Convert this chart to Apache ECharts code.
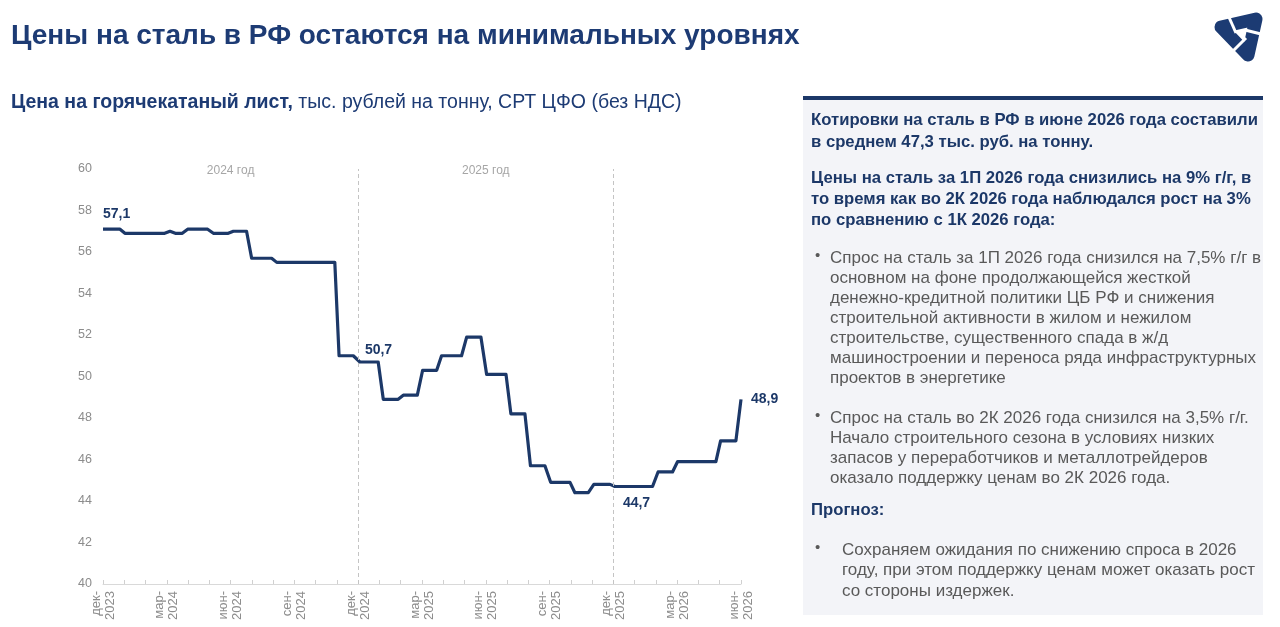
<!DOCTYPE html>
<html>
<head>
<meta charset="utf-8">
<script src="https://cdn.jsdelivr.net/npm/echarts@6/dist/echarts.min.js"></script>
<style>
  html, body { margin: 0; padding: 0; background: #fff; }
  #chart { width: 1280px; height: 627px; }
</style>
</head>
<body>
<div id="chart"></div>
<script>
// месяцы от дек-2023 (0) до июн-2026 (30)
const xMonths = [0, 0.8, 1.03, 2.9, 3.15, 3.4, 3.73, 3.98, 4.92, 5.19, 5.89, 6.13, 6.75, 6.99,
  7.93, 8.17, 10.9, 11.1, 11.77, 12.08, 12.94, 13.18, 13.88, 14.12, 14.78, 15.03, 15.69, 15.92,
  16.86, 17.1, 17.77, 18.04, 18.95, 19.18, 19.84, 20.1, 20.78, 21.05, 21.96, 22.19, 22.82, 23.08,
  23.84, 24.07, 25.84, 26.1, 26.78, 27.02, 28.82, 29.04, 29.76, 30];
const prices = [57.1, 57.1, 56.9, 56.9, 57.0, 56.9, 56.9, 57.1, 57.1, 56.9, 56.9, 57.0, 57.0, 55.7,
  55.7, 55.5, 55.5, 51.0, 51.0, 50.7, 50.7, 48.9, 48.9, 49.1, 49.1, 50.3, 50.3, 51.0,
  51.0, 51.9, 51.9, 50.1, 50.1, 48.2, 48.2, 45.7, 45.7, 44.9, 44.9, 44.4, 44.4, 44.8,
  44.8, 44.7, 44.7, 45.4, 45.4, 45.9, 45.9, 46.9, 46.9, 48.9];
const quarterLabels = ['дек-\n2023', 'мар-\n2024', 'июн-\n2024', 'сен-\n2024', 'дек-\n2024', 'мар-\n2025',
  'июн-\n2025', 'сен-\n2025', 'дек-\n2025', 'мар-\n2026', 'июн-\n2026'];
const yearBands = [['2024 год', 0, 12], ['2025 год', 12, 24]];
const yearBreaks = [12, 24];

const NAVY = '#1c3868';
const GREY_TEXT = '#595959';
const fmt = v => v.toFixed(1).replace('.', ',');

// подписи точек
const callouts = {
  0:  { position: 'top', align: 'left', distance: 8, offset: [0, 0] },
  19: { position: 'top', align: 'left', distance: 5, offset: [5, 0] },
  43: { position: 'bottom', align: 'left', distance: 10, offset: [8, 0] },
  51: { position: 'right', distance: 10, offset: [0, 0] }
};

const FONT = '"Liberation Sans", Arial, sans-serif';

const seriesData = xMonths.map((x, i) => {
  const item = { value: [x, prices[i]] };
  if (callouts[i]) {
    item.label = Object.assign({
      show: true,
      formatter: p => fmt(p.value[1]),
      color: NAVY,
      fontWeight: 'bold',
      fontSize: 14,
      fontFamily: FONT
    }, callouts[i]);
  }
  return item;
});

const panelX = 811;
const bodyFont = '17px ' + FONT;
const boldFont = 'bold 16.7px ' + FONT;
const LOGO = '#1c3b73';

const chart = echarts.init(document.getElementById('chart'));
const option = {
  backgroundColor: '#fff',
  animation: false,
  grid: { left: 103, right: 539, top: 169, bottom: 43 },
  xAxis: {
    type: 'value',
    min: 0,
    max: 30,
    interval: 1,
    splitLine: { show: false },
    axisLine: { lineStyle: { color: '#d9d9d9' } },
    axisTick: { show: true, inside: true, length: 4, lineStyle: { color: '#d0d0d0' } },
    axisLabel: {
      rotate: 90,
      margin: 7,
      color: '#8c8c8c',
      fontSize: 13,
      lineHeight: 14,
      fontFamily: FONT,
      showMinLabel: true,
      showMaxLabel: true,
      formatter: v => (v % 3 === 0 ? quarterLabels[v / 3] : '')
    }
  },
  yAxis: {
    type: 'value',
    min: 40,
    max: 60,
    interval: 2,
    splitLine: { show: false },
    axisLine: { show: false },
    axisTick: { show: false },
    axisLabel: { color: '#8c8c8c', fontSize: 12.5, margin: 11, fontFamily: FONT }
  },
  series: [{
    type: 'line',
    data: seriesData,
    showSymbol: true,
    symbol: 'circle',
    symbolSize: 0,
    lineStyle: { color: NAVY, width: 3.2, join: 'round' },
    itemStyle: { color: NAVY },
    markLine: {
      silent: true,
      symbol: 'none',
      label: { show: false },
      lineStyle: { color: '#c4c4c4', type: [4, 3], width: 1 },
      data: yearBreaks.map(x => ({ xAxis: x }))
    },
    markArea: {
      silent: true,
      itemStyle: { color: 'rgba(0,0,0,0)' },
      label: { show: true, position: 'insideTop', distance: 0, offset: [0, -4], color: '#a6a6a6', fontSize: 12, fontFamily: FONT },
      data: yearBands.map(b => [{ name: b[0], xAxis: b[1] }, { xAxis: b[2] }])
    }
  }],
  graphic: [
    {
      type: 'text', left: 11, top: 22,
      style: { text: 'Цены на сталь в РФ остаются на минимальных уровнях', font: 'bold 28px ' + FONT, fill: '#1d3b74' }
    },
    {
      type: 'text', left: 11, top: 93,
      style: {
        text: '{b|Цена на горячекатаный лист,} тыс. рублей на тонну, СРТ ЦФО (без НДС)',
        font: '19.5px ' + FONT, fill: '#1d3b74',
        rich: { b: { fontWeight: 'bold', fontSize: 19.5, fontFamily: FONT, fill: '#1d3b74' } }
      }
    },
    // логотип: скруглённый треугольник из трёх лопастей
    {
      type: 'group',
      children: [
        { type: 'polygon', shape: { points: [[1221, 27], [1256, 19], [1248, 55]] },
          style: { fill: '#fff', stroke: LOGO, lineWidth: 13, lineJoin: 'round' } },
        { type: 'line', shape: { x1: 1228, y1: 15, x2: 1236, y2: 33 }, style: { stroke: '#fff', lineWidth: 3 } },
        { type: 'line', shape: { x1: 1265, y1: 35, x2: 1245, y2: 30 }, style: { stroke: '#fff', lineWidth: 3 } },
        { type: 'line', shape: { x1: 1231, y1: 53, x2: 1246, y2: 38 }, style: { stroke: '#fff', lineWidth: 3 } }
      ]
    },
    // правая панель
    {
      type: 'rect', shape: { x: 803, y: 97, width: 460, height: 518 },
      style: { fill: '#f3f4f8' }, z: -1
    },
    {
      type: 'rect', shape: { x: 803, y: 96, width: 460, height: 4 },
      style: { fill: '#1c3868' }
    },
    {
      type: 'text', left: panelX, top: 109,
      style: {
        text: 'Котировки на сталь в РФ в июне 2026 года составили\nв среднем 47,3 тыс. руб. на тонну.',
        font: boldFont, fill: NAVY, lineHeight: 22
      }
    },
    {
      type: 'text', left: panelX, top: 168,
      style: {
        text: 'Цены на сталь за 1П 2026 года снизились на 9% г/г, в\nто время как во 2К 2026 года наблюдался рост на 3%\nпо сравнению с 1К 2026 года:',
        font: boldFont, fill: NAVY, lineHeight: 21
      }
    },
    { type: 'text', left: 815, top: 248, style: { text: '•', font: '15px ' + FONT, fill: GREY_TEXT } },
    {
      type: 'text', left: 830, top: 248,
      style: {
        text: 'Спрос на сталь за 1П 2026 года снизился на 7,5% г/г в\nосновном на фоне продолжающейся жесткой\nденежно-кредитной политики ЦБ РФ и снижения\nстроительной активности в жилом и нежилом\nстроительстве, существенного спада в ж/д\nмашиностроении и переноса ряда инфраструктурных\nпроектов в энергетике',
        font: bodyFont, fill: GREY_TEXT, lineHeight: 20
      }
    },
    { type: 'text', left: 815, top: 408, style: { text: '•', font: '15px ' + FONT, fill: GREY_TEXT } },
    {
      type: 'text', left: 830, top: 408,
      style: {
        text: 'Спрос на сталь во 2К 2026 года снизился на 3,5% г/г.\nНачало строительного сезона в условиях низких\nзапасов у переработчиков и металлотрейдеров\nоказало поддержку ценам во 2К 2026 года.',
        font: bodyFont, fill: GREY_TEXT, lineHeight: 20
      }
    },
    {
      type: 'text', left: panelX, top: 502,
      style: { text: 'Прогноз:', font: boldFont, fill: NAVY }
    },
    { type: 'text', left: 815, top: 540, style: { text: '•', font: '15px ' + FONT, fill: GREY_TEXT } },
    {
      type: 'text', left: 842, top: 540,
      style: {
        text: 'Сохраняем ожидания по снижению спроса в 2026\nгоду, при этом поддержку ценам может оказать рост\nсо стороны издержек.',
        font: bodyFont, fill: GREY_TEXT, lineHeight: 20.5
      }
    }
  ]
};
chart.setOption(option);
</script>
</body>
</html>
